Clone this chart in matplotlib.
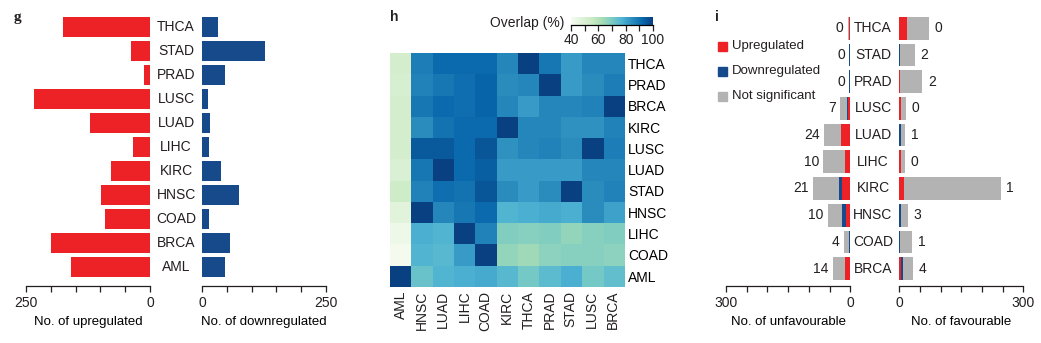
import numpy as np
import matplotlib
matplotlib.use('Agg')
import matplotlib.pyplot as plt
from matplotlib.patches import Rectangle

plt.rcParams['font.family'] = ['Liberation Sans', 'DejaVu Sans']
plt.rcParams['font.size'] = 9
plt.rcParams['text.color'] = '#231f20'
plt.rcParams['xtick.color'] = '#231f20'

RED = '#ec2227'
BLUE = '#174a8a'
GREY = '#b3b3b3'

# ---- panel g data
g_types = ['THCA', 'STAD', 'PRAD', 'LUSC', 'LUAD', 'LIHC', 'KIRC', 'HNSC', 'COAD', 'BRCA', 'AML']
g_up = [175, 38, 13, 234, 121, 34, 79, 99, 91, 200, 159]
g_down = [32, 127, 46, 12, 16, 14, 38, 75, 14, 56, 46]

# ---- panel h data
h_rows = ['THCA', 'PRAD', 'BRCA', 'KIRC', 'LUSC', 'LUAD', 'STAD', 'HNSC', 'LIHC', 'COAD', 'AML']
h_cols = ['AML', 'HNSC', 'LUAD', 'LIHC', 'COAD', 'KIRC', 'THCA', 'PRAD', 'STAD', 'LUSC', 'BRCA']
overlap = [
    [52, 88, 92, 92, 92, 86, 100, 89, 82, 86, 86],
    [51, 87, 89, 91, 93, 85, 86, 100, 82, 85, 88],
    [52, 89, 92, 91, 93, 86, 82, 86, 86, 87, 100],
    [52, 85, 90, 92, 92, 100, 86, 86, 84, 84, 87],
    [52, 95, 95, 92, 96, 84, 86, 87, 85, 100, 88],
    [50, 89, 100, 92, 94, 82, 82, 82, 82, 86, 86],
    [54, 87, 91, 90, 96, 85, 82, 85, 100, 85, 87],
    [47, 100, 86, 89, 92, 77, 78, 79, 78, 85, 81],
    [43, 78, 77, 100, 87, 69, 68, 69, 66, 68, 69],
    [41, 77, 76, 82, 100, 66, 64, 67, 68, 68, 67],
    [100, 73, 77, 78, 79, 76, 71, 75, 78, 71, 74],
]

# ---- panel i data
i_types = ['THCA', 'STAD', 'PRAD', 'LUSC', 'LUAD', 'LIHC', 'KIRC', 'HNSC', 'COAD', 'BRCA']
unfav_up = [2, 0, 0, 6, 22, 12, 20, 10, 1, 13]
unfav_down = [0, 2, 2, 2, 0, 0, 8, 10, 3, 0]
unfav_ns = [4, 0, 0, 17, 41, 53, 62, 34, 12, 29]
unfav_lab = ['0', '0', '0', '7', '24', '10', '21', '10', '4', '14']
fav_up = [18, 0, 2, 5, 0, 3, 12, 0, 0, 5]
fav_down = [0, 2, 0, 0, 3, 0, 0, 5, 2, 5]
fav_ns = [53, 36, 54, 11, 11, 10, 233, 15, 29, 24]
fav_lab = ['0', '2', '2', '0', '1', '0', '1', '3', '1', '4']

W, H = 1041, 343
fig = plt.figure(figsize=(W / 100, H / 100), dpi=100)


def ax_px(x0, y0, x1, y1):
    return fig.add_axes([x0 / W, 1 - y1 / H, (x1 - x0) / W, (y1 - y0) / H])


def bar_axis(ax, lim, step, label, invert):
    for s in ['top', 'right', 'left']:
        ax.spines[s].set_visible(False)
    ax.spines['bottom'].set_linewidth(0.9)
    ax.spines['bottom'].set_color('#231f20')
    ticks = np.arange(0, lim + 1, step)
    ax.set_xticks(ticks)
    ax.set_xticklabels([str(t) if t in (0, lim) else '' for t in ticks])
    ax.set_xlim((lim, 0) if invert else (0, lim))
    ax.tick_params(axis='x', length=4.5, width=0.9, pad=3, labelsize=10)
    ax.set_yticks([])
    ax.set_xlabel(label, fontsize=9.5, labelpad=4)
    ax.patch.set_visible(False)


# ---------------- panel g
yg = np.arange(len(g_types))
ylim_g = ((286 - 27) / 24, (14 - 27) / 24)
ax = ax_px(26, 14, 150, 286)
ax.barh(yg, g_up, height=0.86, color=RED)
ax.set_ylim(ylim_g)
bar_axis(ax, 250, 50, 'No. of upregulated', True)
ax = ax_px(202, 14, 326, 286)
ax.barh(yg, g_down, height=0.86, color=BLUE)
ax.set_ylim(ylim_g)
bar_axis(ax, 250, 50, 'No. of downregulated', False)
for k, name in enumerate(g_types):
    fig.text(176 / W, 1 - (27 + 24 * k) / H, name, ha='center', va='center', fontsize=10)
fig.text(14 / W, 1 - 18 / H, 'g', fontsize=11, fontweight='bold',
         family='Liberation Serif', va='center')

# ---------------- panel h
ax = ax_px(390, 52.7, 624, 286.7)
im = ax.imshow(np.array(overlap), cmap='GnBu', vmin=40, vmax=100, aspect='auto')
ax.set_xticks(range(len(h_cols)))
ax.set_xticklabels(h_cols, rotation=90, fontsize=10)
ax.yaxis.tick_right()
ax.set_yticks(range(len(h_rows)))
ax.set_yticklabels(h_rows, fontsize=10)
ax.tick_params(length=0, pad=3)
for s in ax.spines.values():
    s.set_visible(False)
fig.text(390 / W, 1 - 17 / H, 'h', fontsize=10, fontweight='bold', va='center')

cax = ax_px(571, 16.5, 653, 25)
cax.imshow(np.linspace(40, 100, 256)[None, :], cmap='GnBu', vmin=40, vmax=100,
           extent=[40, 100, 0, 1], aspect='auto')
for s in ['top', 'right', 'left']:
    cax.spines[s].set_visible(False)
cax.spines['bottom'].set_linewidth(0.9)
cax.set_yticks([])
cax.set_xticks([40, 60, 80, 100])
cax.set_xticks([50, 70, 90], minor=True)
cax.tick_params(axis='x', which='both', length=4, width=0.9, pad=2, labelsize=10)
fig.text(564 / W, 1 - 23 / H, 'Overlap (%)', ha='right', va='center', fontsize=10)

# ---------------- panel i
yi = np.arange(len(i_types))
ylim_i = ((286 - 28.3) / 26.7, (14 - 28.3) / 26.7)
ax = ax_px(726, 14, 850.3, 286)
left1 = np.array(unfav_up)
left2 = left1 + np.array(unfav_down)
tot = left2 + np.array(unfav_ns)
ax.barh(yi, unfav_up, height=0.85, color=RED)
ax.barh(yi, unfav_down, left=left1, height=0.85, color=BLUE)
ax.barh(yi, unfav_ns, left=left2, height=0.85, color=GREY)
for k in range(len(i_types)):
    ax.annotate(unfav_lab[k], (tot[k], yi[k]), xytext=(-3, 0), textcoords='offset points',
                ha='right', va='center', fontsize=10)
ax.set_ylim(ylim_i)
bar_axis(ax, 300, 50, 'No. of unfavourable', True)

ax = ax_px(899.3, 14, 1023.3, 286)
left1 = np.array(fav_up)
left2 = left1 + np.array(fav_down)
tot = left2 + np.array(fav_ns)
ax.barh(yi, fav_up, height=0.85, color=RED)
ax.barh(yi, fav_down, left=left1, height=0.85, color=BLUE)
ax.barh(yi, fav_ns, left=left2, height=0.85, color=GREY)
for k in range(len(i_types)):
    ax.annotate(fav_lab[k], (tot[k], yi[k]), xytext=(4, 0), textcoords='offset points',
                ha='left', va='center', fontsize=10)
ax.set_ylim(ylim_i)
bar_axis(ax, 300, 50, 'No. of favourable', False)

for k, name in enumerate(i_types):
    fig.text(873 / W, 1 - (28.3 + 26.7 * k) / H, name, ha='center', va='center', fontsize=10)
fig.text(715 / W, 1 - 17 / H, 'i', fontsize=10, fontweight='bold', va='center')

for lab, col, yy in [('Upregulated', RED, 46), ('Downregulated', BLUE, 71),
                     ('Not significant', GREY, 96)]:
    fig.add_artist(Rectangle((718 / W, 1 - (yy + 4.5) / H), 9 / W, 9 / H,
                             transform=fig.transFigure, color=col))
    fig.text(732 / W, 1 - yy / H, lab, va='center', fontsize=9.5)

fig.savefig('out.png', dpi=100)
